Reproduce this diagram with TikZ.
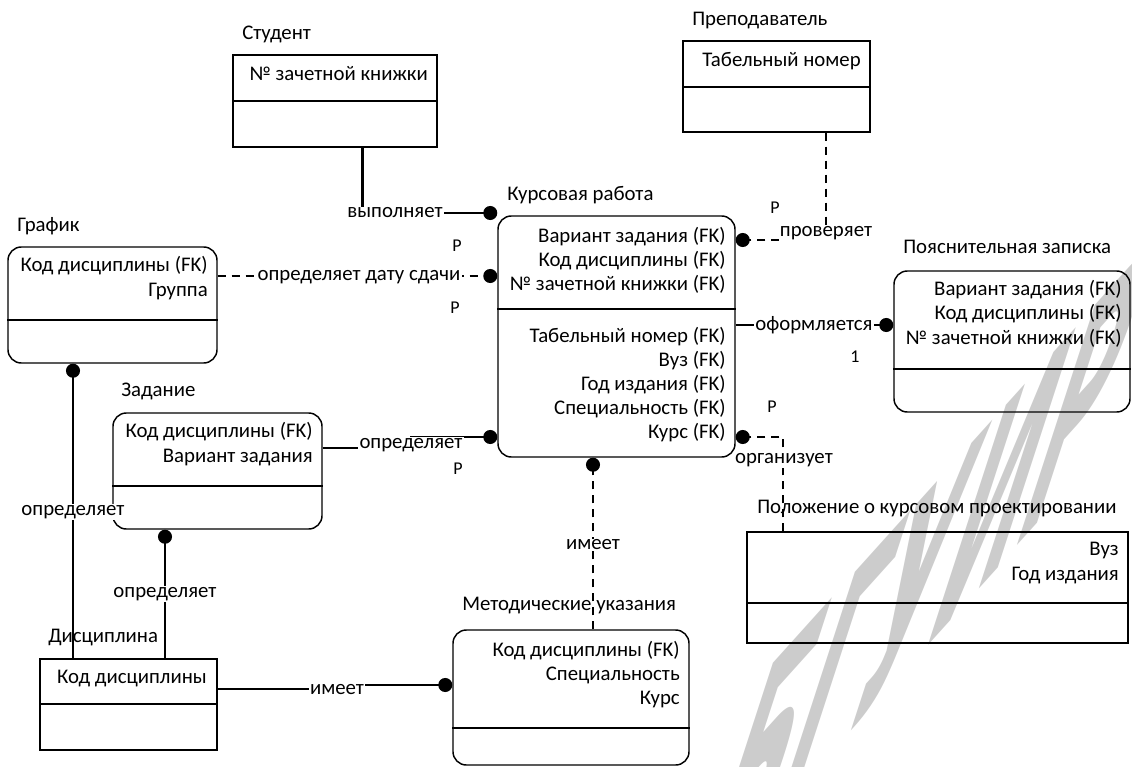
\documentclass[tikz,border=0pt]{standalone}
\usepackage{fontspec}
\setmainfont{Carlito}
\newfontfamily\wmfont{DejaVu Sans}
\usetikzlibrary{fit,arrows.meta}

% entity box: name, x1, y1, x2, y2, divider y, style
\newcommand\entbox[7]{%
  \coordinate (#1-a) at (#2,#3);
  \coordinate (#1-b) at (#4,#5);
  \node[#7, fit=(#1-a)(#1-b)] (#1) {};
  \draw[divline] (#1.west |- 0,#6) -- (#1.east |- 0,#6);
}

\begin{document}
\begin{tikzpicture}[x=0.75pt,y=-0.75pt,
  every node/.style={font=\fontsize{15.6}{18}\selectfont, inner sep=0pt},
  sqbox/.style={draw, line width=1.1pt, inner sep=0pt},
  rbox/.style={sqbox, rounded corners=10pt},
  divline/.style={line width=1.1pt},
  attr/.style={anchor=mid east},
  title/.style={anchor=mid west},
  rel/.style={line width=1.6pt},
  nrel/.style={line width=1.6pt, dash pattern=on 6pt off 4.5pt},
  dot/.style={-{Circle[length=10.5pt,width=10.5pt]}},
  lab/.style={fill=white, inner sep=1pt},
  card/.style={font=\fontsize{13.5}{16}\selectfont},
  wm/.style={text=black!20, font=\wmfont\bfseries\fontsize{100}{100}\selectfont, transform shape}
]
\useasboundingbox (0,0) rectangle (1132,767);

% watermark, slanted along the diagonal
\begin{scope}[shift={(925,572)}]
  \node[wm, cm={0.803,0.892,0.803,2.473,(0,0)}] (wmark) at (0,0) {БГУИР};
\end{scope}

% ---- entities ----
\node[title] (stud-t) at (242,36) {Студент};
\entbox{stud}{233}{55}{437}{147}{101}{sqbox}
\node[attr] (stud-1) at (428,77) {№ зачетной книжки};

\node[title] (prep-t) at (692,22) {Преподаватель};
\entbox{prep}{683}{41}{870}{132}{87}{sqbox}
\node[attr] (prep-1) at (861,63) {Табельный номер};

\node[title] (kr-t) at (507,197) {Курсовая работа};
\entbox{kr}{498}{216}{735}{457}{309}{rbox}
\node[attr] (kr-1) at (726,239) {Вариант задания (FK)};
\node[attr] (kr-2) at (726,263) {Код дисциплины (FK)};
\node[attr] (kr-3) at (726,287) {№ зачетной книжки (FK)};
\node[attr] (kr-4) at (726,339) {Табельный номер (FK)};
\node[attr] (kr-5) at (726,363) {Вуз (FK)};
\node[attr] (kr-6) at (726,387) {Год издания (FK)};
\node[attr] (kr-7) at (726,411) {Специальность (FK)};
\node[attr] (kr-8) at (726,435) {Курс (FK)};

\node[title] (graf-t) at (17,228) {График};
\entbox{graf}{8}{247}{217}{363}{320}{rbox}
\node[attr] (graf-1) at (208,268) {Код дисциплины (FK)};
\node[attr] (graf-2) at (208,293) {Группа};

\node[title] (zad-t) at (121,393) {Задание};
\entbox{zad}{113}{413}{322}{529}{486}{rbox}
\node[attr] (zad-1) at (313,434) {Код дисциплины (FK)};
\node[attr] (zad-2) at (313,459) {Вариант задания};

\node[title] (pz-t) at (903,250) {Пояснительная записка};
\entbox{pz}{894}{271}{1130}{412}{369}{rbox}
\node[attr] (pz-1) at (1122,292) {Вариант задания (FK)};
\node[attr] (pz-2) at (1122,316) {Код дисциплины (FK)};
\node[attr] (pz-3) at (1122,341) {№ зачетной книжки (FK)};

\node[title] (pol-t) at (757,510) {Положение о курсовом проектировании};
\entbox{pol}{747}{532}{1128}{643}{603}{sqbox}
\node[attr] (pol-1) at (1119,552) {Вуз};
\node[attr] (pol-2) at (1119,577) {Год издания};

\node[title] (disc-t) at (48,639) {Дисциплина};
\entbox{disc}{40}{659}{217}{750}{704}{sqbox}
\node[attr] (disc-1) at (207,680) {Код дисциплины};

\node[title] (met-t) at (462,607) {Методические указания};
\entbox{met}{453}{630}{689}{765}{728}{rbox}
\node[attr] (met-1) at (680,653) {Код дисциплины (FK)};
\node[attr] (met-2) at (680,677) {Специальность};
\node[attr] (met-3) at (680,701) {Курс};

% ---- relationships ----
\draw[rel, dot] (362.5,0 |- stud.south) -- (362.5,213) -- (kr.west |- 0,213);
\draw[nrel, dot] (graf.east |- 0,276) -- (kr.west |- 0,276);
\draw[rel, dot] (zad.east |- 0,448) -- (411,448) -- (411,437) -- (kr.west |- 0,437);
\draw[nrel, dot] (826,0 |- prep.south) -- (826,240) -- (kr.east |- 0,240);
\draw[rel, dot] (kr.east |- 0,325) -- (pz.west |- 0,325);
\draw[nrel, dot] (783,0 |- pol.north) -- (783,437) -- (kr.east |- 0,437);
\draw[nrel, dot] (593,0 |- met.north) -- (593,0 |- kr.south);
\draw[rel, dot] (73,0 |- disc.north) -- (73,0 |- graf.south);
\draw[rel, dot] (165,0 |- disc.north) -- (165,0 |- zad.south);
\draw[rel, dot] (disc.east |- 0,689) -- (337,689) -- (337,685) -- (met.west |- 0,685);

% relationship names
\node[lab] (l-vyp) at (395,213) {выполняет};
\node[lab] (l-data) at (359,277) {определяет дату сдачи};
\node[lab] (l-zad) at (411,445) {определяет};
\node[lab] (l-prov) at (826,233) {проверяет};
\node[lab] (l-oform) at (814,325) {оформляется};
\node[lab] (l-org) at (784,460) {организует};
\node[lab] (l-imeet1) at (593,545) {имеет};
\node[lab] (l-graf) at (73,512) {определяет};
\node[lab] (l-disc) at (165,594) {определяет};
\node[lab] (l-imeet2) at (337,690) {имеет};

% cardinalities
\node[card] (c1) at (457,246) {P};
\node[card] (c2) at (455,308) {P};
\node[card] (c3) at (458,469) {P};
\node[card] (c4) at (775,208) {P};
\node[card] (c5) at (772,407) {P};
\node[card] (c6) at (855,357) {1};
\end{tikzpicture}
\end{document}
